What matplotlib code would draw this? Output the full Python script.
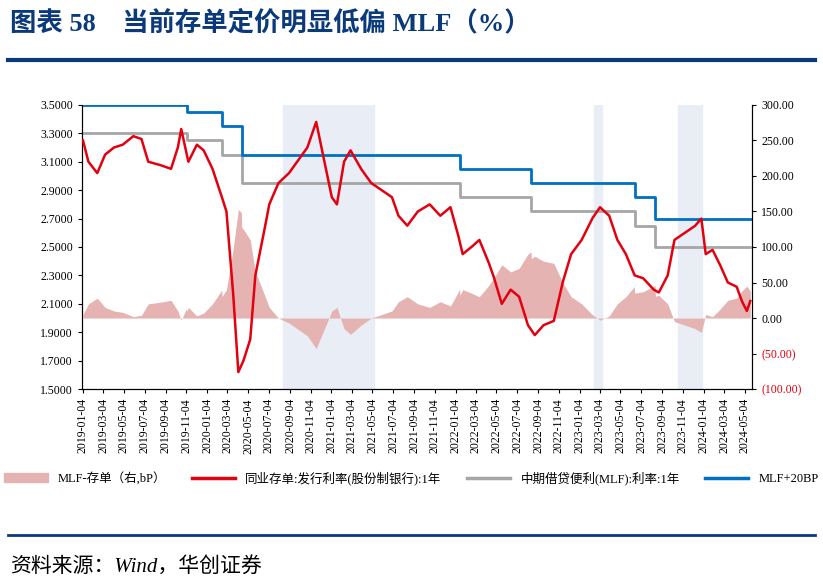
import matplotlib
matplotlib.use("Agg")
import matplotlib.pyplot as plt
import numpy as np
import pandas as pd
from matplotlib.patches import Patch
from matplotlib.lines import Line2D

plt.rcParams["font.family"] = ["Liberation Serif", "Noto Sans CJK SC"]

# NCD issuance rate (joint-stock banks, 1Y), read approx. from the picture
ncd_dates = ["2019-01-04", "2019-01-20", "2019-02-15", "2019-03-10", "2019-04-05", "2019-05-01",
             "2019-06-01", "2019-06-25", "2019-07-15", "2019-08-15", "2019-09-20", "2019-10-10",
             "2019-10-20", "2019-11-10", "2019-12-05", "2019-12-25", "2020-01-20", "2020-02-10",
             "2020-03-01", "2020-03-20", "2020-04-05", "2020-04-20", "2020-05-10", "2020-05-25",
             "2020-06-15", "2020-07-05", "2020-08-01", "2020-09-01", "2020-10-01", "2020-10-25",
             "2020-11-20", "2020-12-10", "2021-01-05", "2021-01-20", "2021-02-10", "2021-03-01",
             "2021-04-01", "2021-05-01", "2021-06-01", "2021-07-01", "2021-07-20", "2021-08-15",
             "2021-09-15", "2021-10-20", "2021-11-20", "2021-12-20", "2022-01-10", "2022-01-25",
             "2022-02-20", "2022-03-15", "2022-04-10", "2022-04-25", "2022-05-20", "2022-06-15",
             "2022-07-10", "2022-08-05", "2022-08-25", "2022-09-20", "2022-10-20", "2022-11-15",
             "2022-12-10", "2023-01-10", "2023-02-10", "2023-03-05", "2023-04-01", "2023-04-25",
             "2023-05-20", "2023-06-15", "2023-07-10", "2023-08-10", "2023-08-25", "2023-09-20",
             "2023-10-10", "2023-11-10", "2023-12-10", "2023-12-28", "2024-01-10", "2024-01-30",
             "2024-02-20", "2024-03-15", "2024-04-10", "2024-04-25", "2024-05-10", "2024-05-20"]
ncd_vals = [3.25, 3.10, 3.02, 3.15, 3.20, 3.22, 3.28, 3.26, 3.10, 3.08, 3.05, 3.20,
            3.33, 3.10, 3.22, 3.18, 3.05, 2.90, 2.75, 2.20, 1.62, 1.70, 1.85, 2.30,
            2.55, 2.80, 2.95, 3.02, 3.12, 3.20, 3.38, 3.15, 2.85, 2.80, 3.10, 3.18,
            3.05, 2.95, 2.90, 2.85, 2.72, 2.65, 2.75, 2.80, 2.72, 2.78, 2.60, 2.45,
            2.50, 2.55, 2.40, 2.30, 2.10, 2.20, 2.15, 1.95, 1.88, 1.95, 1.98, 2.25,
            2.45, 2.55, 2.70, 2.78, 2.72, 2.55, 2.45, 2.30, 2.28, 2.20, 2.18, 2.30,
            2.55, 2.60, 2.65, 2.70, 2.45, 2.48, 2.38, 2.25, 2.22, 2.12, 2.05, 2.12]

# MLF 1Y rate: change dates and levels
mlf_dates = ["2019-01-04", "2019-11-05", "2020-02-17", "2020-04-15", "2022-01-17",
             "2022-08-15", "2023-06-15", "2023-08-15", "2024-05-31"]
mlf_vals = [3.30, 3.25, 3.15, 2.95, 2.85, 2.75, 2.65, 2.50, 2.50]

shade_spans = [("2020-08-15", "2021-05-10"), ("2023-02-15", "2023-03-10"), ("2023-10-20", "2023-12-31")]

red = "#e3000f"
navy = "#0b3a7a"

ncd = pd.Series(ncd_vals, index=pd.to_datetime(ncd_dates))
days = pd.date_range(ncd.index[0], ncd.index[-1], freq="D")
ncd_d = ncd.reindex(ncd.index.union(days)).interpolate(method="time").reindex(days)
mlf = pd.Series(mlf_vals, index=pd.to_datetime(mlf_dates))
mlf_d = mlf.reindex(mlf.index.union(days)).ffill().reindex(days)
spread = (mlf_d - ncd_d) * 100

fig = plt.figure(figsize=(8.23, 5.86), dpi=100)
fig.text(0.012, 0.962, "图表 58　当前存单定价明显低偏 MLF（%）", fontsize=19, fontweight="bold",
         color=navy, va="center")
fig.add_artist(Line2D([0.01, 0.99], [0.898, 0.898], color=navy, lw=3))
fig.add_artist(Line2D([0.01, 0.99], [0.087, 0.087], color=navy, lw=2))
fig.text(0.012, 0.032, "资料来源：Wind，华创证券", fontsize=15, style="italic", va="center")

ax = fig.add_axes([0.0996, 0.336, 0.8141, 0.485])
ax2 = ax.twinx()
ax.set_zorder(ax2.get_zorder() + 1)
ax.patch.set_visible(False)

for a, b in shade_spans:
    ax2.axvspan(pd.Timestamp(a), pd.Timestamp(b), color="#e8edf6", zorder=0)
ax2.fill_between(days, 0, spread.values, color="#e6b3b3", lw=0, zorder=1)
ax2.set_ylim(-100, 300)
rt = list(range(-100, 301, 50))
ax2.set_yticks(rt)
ax2.set_yticklabels([f"({abs(v):.2f})" if v < 0 else f"{v:.2f}" for v in rt])
for lbl, v in zip(ax2.get_yticklabels(), rt):
    if v < 0:
        lbl.set_color(red)

ax.plot(days, ncd_d.values, color=red, lw=1.8, zorder=3)
ax.step(mlf.index, mlf.values, where="post", color="#a6a6a6", lw=2, zorder=2)
ax.step(mlf.index, mlf.values + 0.2, where="post", color="#0070c0", lw=2, zorder=2)
ax.set_ylim(1.5, 3.5)
ax.set_yticks(np.arange(1.5, 3.51, 0.2))
ax.yaxis.set_major_formatter(matplotlib.ticker.FormatStrFormatter("%.4f"))
ax.set_xlim(pd.Timestamp("2019-01-01"), pd.Timestamp("2024-05-25"))
xt = pd.date_range("2019-01-01", "2024-05-01", freq="2MS") + pd.Timedelta(days=3)
ax.set_xticks(xt)
ax.set_xticklabels([d.strftime("%Y-%m-%d") for d in xt], rotation=90, fontsize=8.5)
for a in (ax, ax2):
    a.tick_params(labelsize=8.5, direction="out", length=3)
    a.spines["top"].set_visible(False)

handles = [Patch(color="#e6b3b3"), Line2D([], [], color=red, lw=2.5),
           Line2D([], [], color="#a6a6a6", lw=2.5), Line2D([], [], color="#0070c0", lw=2.5)]
labels = ["MLF-存单（右,bP）", "同业存单:发行利率(股份制银行):1年", "中期借贷便利(MLF):利率:1年", "MLF+20BP"]
fig.legend(handles, labels, loc="center", bbox_to_anchor=(0.5, 0.184), ncol=4, frameon=False,
           handlelength=3.5, columnspacing=2.0, prop={"size": 9})

fig.savefig("out.png", dpi=100)
